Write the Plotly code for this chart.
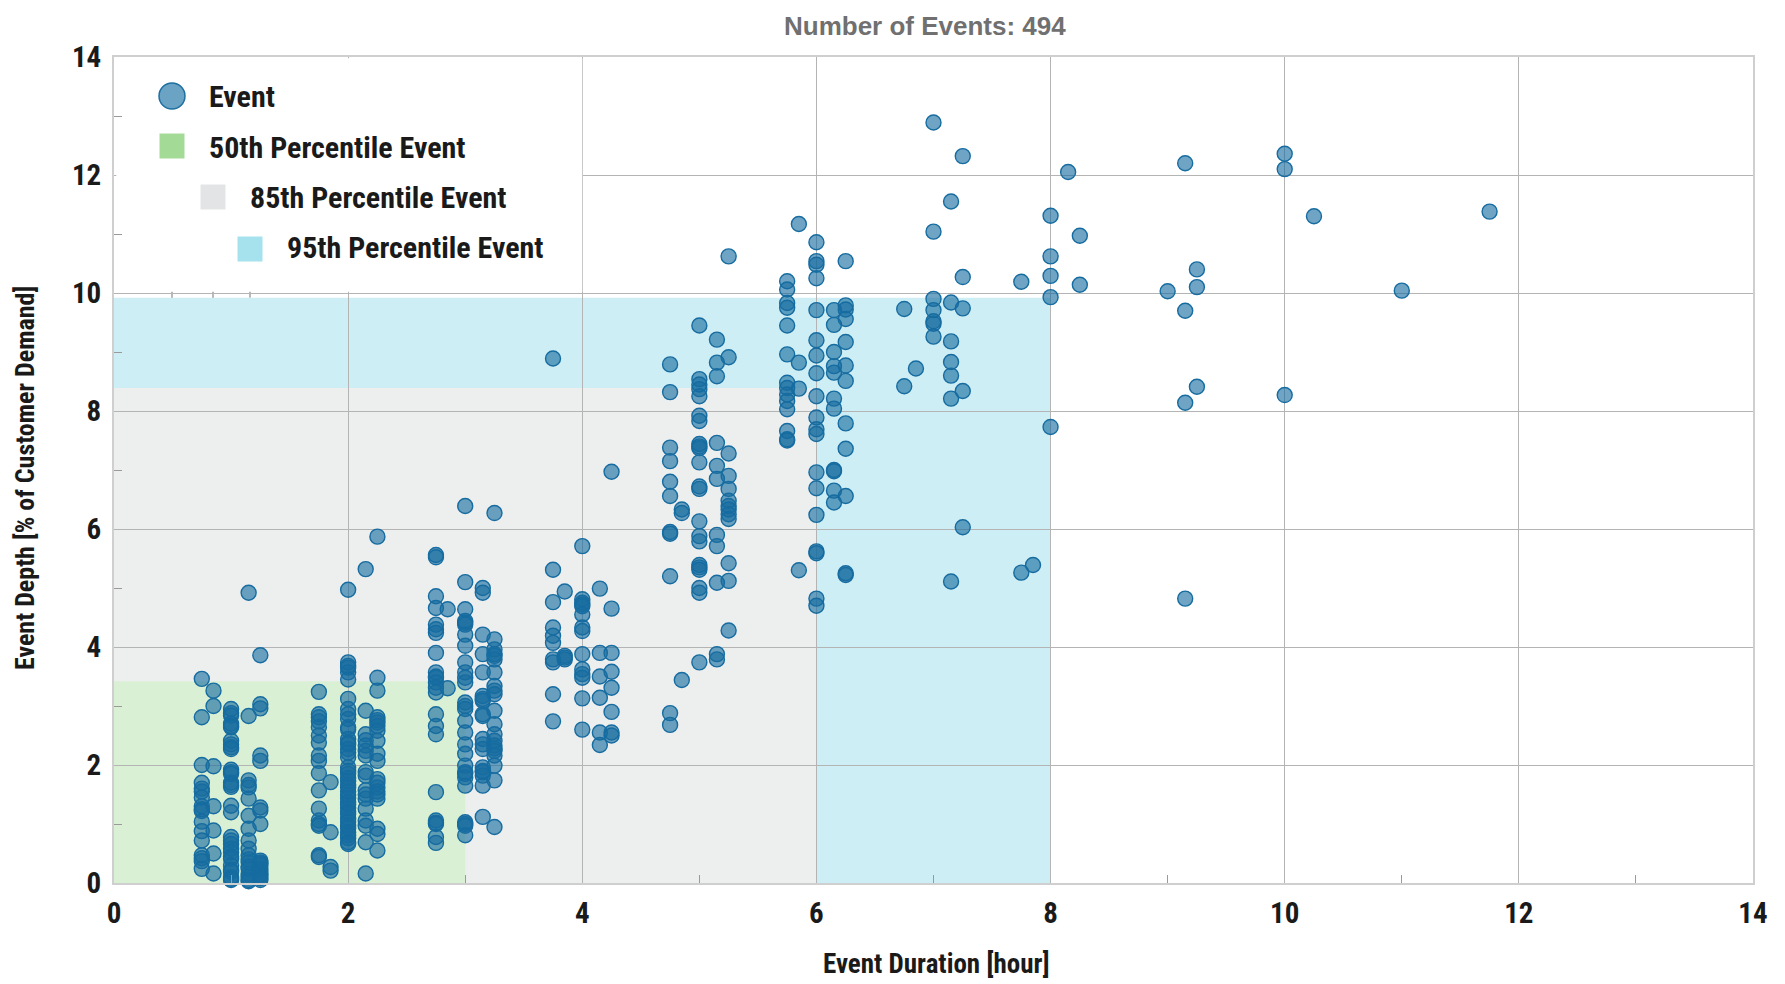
import plotly.graph_objects as go

# ---------------- data ----------------
column_duration = [0.75, 0.85, 1.0, 1.15, 1.25,
                   1.75, 1.85, 2.0, 2.15, 2.25,
                   2.75, 2.85, 3.0, 3.15, 3.25,
                   3.75, 3.85, 4.0, 4.15, 4.25,
                   4.75, 4.85, 5.0, 5.15, 5.25,
                   5.75, 5.85, 6.0, 6.15, 6.25,
                   6.75, 6.85, 7.0, 7.15, 7.25, 7.75, 7.85, 8.0, 8.15, 8.25,
                   9.0, 9.15, 9.25, 10.0, 10.25, 11.0, 11.75]

column_depth = [
    [3.46, 2.81, 2.0, 1.7, 1.6, 1.55, 1.45, 1.3, 1.25, 1.22, 1.04, 0.88, 0.72, 0.47, 0.42, 0.37, 0.24],
    [3.26, 3.0, 1.98, 1.3, 0.89, 0.5, 0.16],
    [2.95, 2.88, 2.84, 2.7, 2.66, 2.64, 2.41, 2.35, 2.3, 2.27, 1.92, 1.88, 1.85, 1.7, 1.66, 1.63,
     1.31, 1.2, 0.78, 0.72, 0.66, 0.58, 0.52, 0.45, 0.41, 0.3, 0.22, 0.19, 0.1, 0.07, 0.05],
    [4.92, 2.83, 1.74, 1.66, 1.62, 1.43, 1.14, 0.92, 0.72, 0.58, 0.47, 0.4, 0.35, 0.28, 0.24, 0.15, 0.1, 0.05, 0.03],
    [3.86, 3.03, 2.96, 2.16, 2.07, 1.28, 1.23, 1.0, 0.38, 0.35, 0.33, 0.3, 0.24, 0.19, 0.15, 0.12, 0.08, 0.05],
    [3.24, 2.86, 2.81, 2.74, 2.64, 2.5, 2.38, 2.16, 2.07, 1.86, 1.57, 1.26, 1.06, 1.0, 0.97, 0.47, 0.44],
    [1.71, 0.86, 0.27, 0.21],
    [4.97, 3.74, 3.68, 3.65, 3.57, 3.45, 3.12, 2.95, 2.86, 2.78, 2.64, 2.6, 2.44, 2.38, 2.35, 2.27, 2.21,
     2.13, 1.96, 1.9, 1.85, 1.78, 1.73, 1.66, 1.62, 1.55, 1.49, 1.44, 1.37, 1.33, 1.27, 1.21, 1.17, 1.09,
     1.04, 0.97, 0.93, 0.86, 0.81, 0.76, 0.69, 0.66],
    [5.32, 2.92, 2.52, 2.42, 2.33, 2.24, 2.16, 1.88, 1.82, 1.57, 1.5, 1.43, 1.26, 1.06, 0.97, 0.69, 0.16],
    [5.87, 3.48, 3.26, 2.81, 2.76, 2.72, 2.66, 2.58, 2.41, 2.19, 2.07, 1.76, 1.7, 1.62, 1.55, 1.5, 1.43,
     0.92, 0.83, 0.55],
    [5.56, 5.52, 4.86, 4.66, 4.38, 4.3, 4.24, 3.9, 3.57, 3.5, 3.48, 3.4, 3.31, 3.23, 2.86, 2.66, 2.52,
     1.54, 1.06, 1.02, 1.0, 0.78, 0.68],
    [4.64, 3.3],
    [6.39, 5.1, 4.64, 4.44, 4.41, 4.38, 4.21, 4.02, 3.74, 3.57, 3.48, 3.4, 3.06, 3.0, 2.95, 2.75, 2.55,
     2.35, 2.19, 1.99, 1.88, 1.85, 1.79, 1.65, 1.03, 1.0, 0.97, 0.81],
    [5.0, 4.92, 4.21, 3.88, 3.57, 3.17, 3.12, 3.09, 2.86, 2.83, 2.44, 2.35, 2.27, 1.96, 1.9, 1.88, 1.82,
     1.65, 1.12],
    [6.27, 4.13, 3.96, 3.88, 3.85, 3.79, 3.57, 3.34, 3.26, 3.2, 2.92, 2.69, 2.52, 2.41, 2.33, 2.28, 2.24,
     2.16, 1.99, 1.74, 0.95],
    [8.89, 5.31, 4.76, 4.33, 4.19, 4.07, 3.79, 3.74, 3.2, 2.74],
    [4.94, 3.85, 3.82, 3.79],
    [5.71, 4.81, 4.75, 4.72, 4.69, 4.55, 4.33, 4.27, 3.88, 3.62, 3.54, 3.48, 3.13, 2.6],
    [4.99, 3.9, 3.5, 3.14, 2.55, 2.34],
    [6.97, 4.65, 3.9, 3.58, 3.31, 2.9, 2.55, 2.5],
    [8.79, 8.32, 7.38, 7.15, 6.8, 6.56, 5.95, 5.92, 5.2, 2.88, 2.68],
    [6.33, 6.27, 3.44],
    [9.45, 8.54, 8.45, 8.37, 8.25, 7.92, 7.83, 7.44, 7.4, 7.37, 7.13, 6.72, 6.68, 6.13, 5.88, 5.79, 5.39,
     5.35, 5.31, 5.0, 4.92, 3.74],
    [9.21, 8.82, 8.59, 7.46, 7.07, 6.85, 5.9, 5.71, 5.09, 3.88, 3.79],
    [10.62, 8.91, 7.28, 6.9, 6.68, 6.48, 6.39, 6.33, 6.25, 6.17, 5.42, 5.12, 4.28],
    [10.2, 10.06, 9.83, 9.75, 9.45, 8.96, 8.48, 8.39, 8.28, 8.17, 8.03, 7.66, 7.52, 7.5],
    [11.17, 8.82, 8.38, 5.3],
    [10.86, 10.54, 10.48, 10.25, 9.71, 9.2, 8.94, 8.64, 8.25, 7.89, 7.69, 7.61, 6.96, 6.69, 6.24, 5.62,
     5.59, 4.82, 4.7],
    [9.71, 9.46, 9.0, 8.76, 8.65, 8.21, 8.04, 7.0, 6.98, 6.65, 6.45],
    [10.54, 9.79, 9.72, 9.56, 9.17, 8.77, 8.51, 7.79, 7.36, 6.56, 5.25, 5.22],
    [9.73, 8.42],
    [8.72],
    [12.89, 11.04, 9.9, 9.71, 9.52, 9.48, 9.26],
    [11.55, 9.84, 9.18, 8.83, 8.6, 8.21, 5.11],
    [12.32, 10.27, 9.74, 8.34, 6.03],
    [10.19, 5.26],
    [5.39],
    [11.31, 10.62, 10.29, 9.93, 7.73],
    [12.05],
    [10.97, 10.14],
    [10.03],
    [12.2, 9.7, 8.14, 4.82],
    [10.4, 10.1, 8.41],
    [12.36, 12.1, 8.27],
    [11.3],
    [10.04],
    [11.38],
]

percentile_names = ["50th Percentile Event", "85th Percentile Event", "95th Percentile Event"]
percentile_duration = [3.0, 6.0, 8.0]
percentile_depth = [3.42, 8.39, 9.92]
percentile_fill = ["#d9f0d4", "#edeeee", "#ceeef5"]
percentile_swatch = ["#a2da96", "#e3e4e5", "#a5e2ed"]

# flatten columns
event_duration = []
event_depth = []
for xv, ys in zip(column_duration, column_depth):
    for yv in ys:
        event_duration.append(xv)
        event_depth.append(yv)

# ---------------- figure ----------------
# the page body adds an 8 px offset; positions below are given in screen pixels
OFF = 8
W, H = 1777, 976
SL, SR, ST, SB = 114, 1753, 57, 883          # plot area edges on screen
L, T = SL - OFF, ST - OFF
R = W - (SR - OFF)
B = H - (SB - OFF)
PW, PH = SR - SL, SB - ST

def px(xs):
    return (xs - SL) / PW

def py(ys):
    return (SB - ys) / PH

FONT = "Roboto Condensed, Roboto, sans-serif"

fig = go.Figure()

fig.add_trace(go.Scatter(
    x=event_duration, y=event_depth, mode="markers", name="Event",
    cliponaxis=False, showlegend=False, hoverinfo="x+y",
    marker=dict(size=15, color="rgba(22,108,160,0.62)",
                line=dict(color="rgb(22,108,160)", width=1.4)),
))

shapes = []
for i in [2, 1, 0]:
    shapes.append(dict(type="rect", xref="x", yref="y", x0=0, x1=percentile_duration[i],
                       y0=0, y1=percentile_depth[i], fillcolor=percentile_fill[i],
                       line=dict(width=0), layer="below"))
shapes.append(dict(type="rect", xref="x", yref="y", x0=0.02, x1=4, y0=10.02, y1=13.98,
                   fillcolor="white", line=dict(width=0), layer="between"))

sw_cx = [172, 213, 250]
sw_cy = [146, 197, 249]
sw = 25
for i in range(3):
    shapes.append(dict(type="line", xref="paper", yref="paper",
                       x0=px(sw_cx[i]), x1=px(sw_cx[i]),
                       y0=percentile_depth[i] / 14.0, y1=py(sw_cy[i] + sw / 2),
                       line=dict(color="#8a8a8a", width=1.2), layer="between"))
    shapes.append(dict(type="rect", xref="paper", yref="paper",
                       x0=px(sw_cx[i] - sw / 2), x1=px(sw_cx[i] + sw / 2),
                       y0=py(sw_cy[i] + sw / 2), y1=py(sw_cy[i] - sw / 2),
                       fillcolor=percentile_swatch[i], line=dict(width=0), layer="above"))
shapes.append(dict(type="circle", xref="paper", yref="paper",
                   x0=px(172 - 13), x1=px(172 + 13), y0=py(96 + 13), y1=py(96 - 13),
                   fillcolor="#6aa3c4", line=dict(color="#1f6fa0", width=1.5), layer="above"))

annotations = []
legend_text = ["Event"] + percentile_names
legend_tx = [207, 207, 248, 285]
legend_ty = [96, 147, 197, 248]
for t, xx, yy in zip(legend_text, legend_tx, legend_ty):
    annotations.append(dict(text=t, xref="paper", yref="paper", x=px(xx), y=py(yy),
                            xanchor="left", yanchor="middle", showarrow=False,
                            font=dict(family=FONT, size=30, color="#1a1a1a", weight="bold")))

annotations.append(dict(text=f"Number of Events: {len(event_depth)}", xref="paper", yref="paper",
                        x=px(925), y=py(26), xanchor="center", yanchor="middle", showarrow=False,
                        borderpad=0,
                        font=dict(family="Liberation Sans, Arial, sans-serif", size=26,
                                  color="#707070", weight="bold")))
annotations.append(dict(text="Event Duration [hour]", xref="paper", yref="paper",
                        x=px(937), y=py(964), xanchor="center", yanchor="middle", showarrow=False,
                        font=dict(family=FONT, size=27, color="#1a1a1a", weight="bold")))
annotations.append(dict(text="Event Depth [% of Customer Demand]", xref="paper", yref="paper",
                        x=px(25), y=py(478), xanchor="center", yanchor="middle", showarrow=False,
                        textangle=-90,
                        font=dict(family=FONT, size=26, color="#1a1a1a", weight="bold")))

axis_common = dict(
    range=[0, 14], dtick=2, tick0=0, showgrid=True, gridcolor="#b4b4b4", gridwidth=1,
    zeroline=False, showline=True, linecolor="#cfcfcf", linewidth=2, mirror=True,
    ticks="", tickfont=dict(family=FONT, size=29, color="#1a1a1a", weight="bold"),
    minor=dict(dtick=1, tick0=0, ticks="inside", ticklen=8, tickcolor="#9a9a9a", tickwidth=1,
               showgrid=False),
    fixedrange=True,
)

fig.update_layout(
    width=W, height=H,
    margin=dict(l=L, r=R, t=T, b=B),
    paper_bgcolor="white", plot_bgcolor="white",
    showlegend=False,
    xaxis=dict(**axis_common, ticklabelstandoff=3),
    yaxis=dict(**axis_common, ticklabelstandoff=5),
    shapes=shapes, annotations=annotations,
)

fig.write_html("out.html")
